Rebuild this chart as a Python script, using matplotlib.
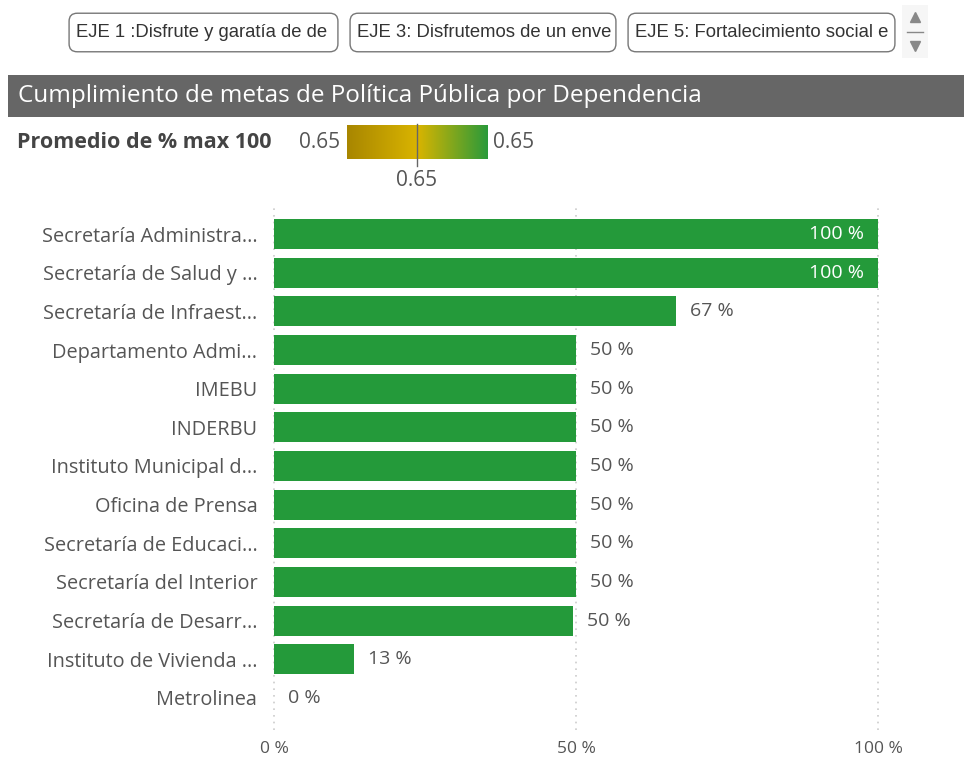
import matplotlib
matplotlib.use("Agg")
import matplotlib.pyplot as plt
import numpy as np
from matplotlib.patches import FancyBboxPatch, Rectangle
from matplotlib.colors import LinearSegmentedColormap

categories = ["Secretaría Administra...", "Secretaría de Salud y ...", "Secretaría de Infraest...",
              "Departamento Admi...", "IMEBU", "INDERBU", "Instituto Municipal d...",
              "Oficina de Prensa", "Secretaría de Educaci...", "Secretaría del Interior",
              "Secretaría de Desarr...", "Instituto de Vivienda ...", "Metrolinea"]
values = [100, 100, 66.6, 50, 50, 50, 50, 50, 50, 50, 49.5, 13.2, 0]
value_labels = ["100 %", "100 %", "67 %", "50 %", "50 %", "50 %", "50 %", "50 %", "50 %",
                "50 %", "50 %", "13 %", "0 %"]
xticks = [0, 50, 100]
xtick_labels = ["0 %", "50 %", "100 %"]
buttons = ["EJE 1 :Disfrute y garatía de de", "EJE 3: Disfrutemos de un enve",
           "EJE 5: Fortalecimiento social e"]
title = "Cumplimiento de metas de Política Pública por Dependencia"
legend_title = "Promedio de % max 100"
legend_min, legend_mid, legend_max = 0.65, 0.65, 0.65

W, H = 964, 758
FONT = "Open Sans"
BAR = "#249A3A"
TXT = "#555555"

fig = plt.figure(figsize=(W / 100, H / 100), dpi=100)
fig.patch.set_facecolor("white")

def fx(px):
    return px / W

def fy(py):
    return 1 - py / H

# Slicer buttons
btn_x = [(68, 339), (349, 617), (627, 896)]
for (x0, x1), label in zip(btn_x, buttons):
    bax = fig.add_axes([fx(x0), fy(53), fx(x1 - x0), (53 - 12) / H])
    bax.set_xlim(0, 1); bax.set_ylim(0, 1); bax.axis("off")
    bax.add_patch(FancyBboxPatch((0.004, 0.03), 0.992, 0.94, boxstyle="round,pad=0,rounding_size=0.03",
                                 transform=bax.transAxes, fc="white", ec="#777777", lw=1.0,
                                 mutation_aspect=6.5, clip_on=False))
    bax.text(8 / (x1 - x0), 0.5, label, transform=bax.transAxes, ha="left", va="center",
             fontsize=13.3, color="#333333", family="Liberation Sans")
# scroll arrows
sax = fig.add_axes([fx(902), fy(58), fx(26), (58 - 5) / H])
sax.set_xlim(0, 1); sax.set_ylim(0, 1); sax.axis("off")
sax.add_patch(Rectangle((0, 0), 1, 1, transform=sax.transAxes, fc="#f6f6f6", ec="none"))
sax.plot([0.5], [0.78], marker="^", ms=7, color="#888888")
sax.plot([0.5], [0.22], marker="v", ms=7, color="#888888")
sax.plot([0.2, 0.8], [0.5, 0.5], color="#888888", lw=1)

# Title bar
fig.patches.append(Rectangle((fx(8), fy(117)), fx(956), (117 - 75) / H, transform=fig.transFigure,
                             fc="#666666", ec="none"))
fig.text(fx(18), fy(96), title, ha="left", va="center", color="white", fontsize=17.5, family=FONT)

# Legend
fig.text(fx(17), fy(143), legend_title, ha="left", va="center", color="#444444", fontsize=15.5,
         family=FONT, fontweight="bold")
fig.text(fx(299), fy(143), f"{legend_min:.2f}", ha="left", va="center", color=TXT, fontsize=15, family=FONT)
fig.text(fx(493), fy(143), f"{legend_max:.2f}", ha="left", va="center", color=TXT, fontsize=15, family=FONT)
lax = fig.add_axes([fx(347), fy(159), fx(488 - 347), (159 - 125) / H])
cmap = LinearSegmentedColormap.from_list("g", ["#A88600", "#D9B400", "#2A9A3A"])
lax.imshow(np.linspace(0, 1, 256)[None, :], aspect="auto", cmap=cmap, extent=[0, 1, 0, 1])
lax.set_xlim(0, 1); lax.set_ylim(0, 1)
lax.axis("off")
fig.lines.append(plt.Line2D([fx(417), fx(417)], [fy(124), fy(166)], transform=fig.transFigure,
                            color="#666666", lw=1))
fig.text(fx(417), fy(180), f"{legend_mid:.2f}", ha="center", va="center", color=TXT, fontsize=15, family=FONT)

# Bar chart
ax = fig.add_axes([fx(274), fy(730), fx(878 - 274), (730 - 207) / H])
y = np.arange(len(categories))
ax.barh(y, values, height=0.78, color=BAR, zorder=2)
ax.set_xlim(0, 100)
ax.set_ylim(len(categories) - 1 + 0.83, -0.7)
ax.set_yticks(y)
ax.set_yticklabels(categories, fontsize=14.3, color=TXT, family=FONT)
ax.set_xticks(xticks)
ax.set_xticklabels(xtick_labels, fontsize=12.5, color=TXT, family=FONT)
ax.tick_params(length=0)
ax.tick_params(axis="y", pad=12)
ax.tick_params(axis="x", pad=8)
for s in ax.spines.values():
    s.set_visible(False)
for xt in xticks:
    ax.axvline(xt, color="#cccccc", lw=1.2, ls=(0, (1, 3)), zorder=1, clip_on=False)
for yi, v, lab in zip(y, values, value_labels):
    if v >= 95:
        ax.text(v - 2.3, yi, lab, ha="right", va="center", color="white", fontsize=14, family=FONT)
    else:
        ax.text(v + 2.3, yi, lab, ha="left", va="center", color=TXT, fontsize=14, family=FONT)

fig.savefig("out.png", dpi=100)
